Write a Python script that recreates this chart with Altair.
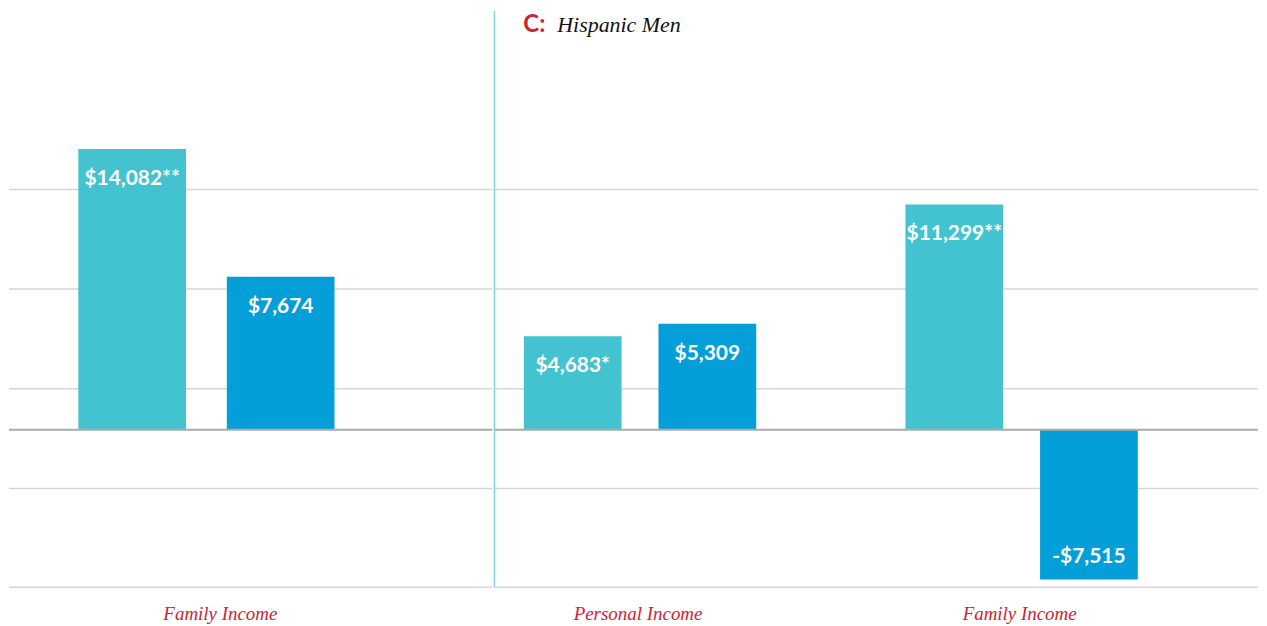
import altair as alt
import pandas as pd

# ---- data ----
panels = ["A", "A", "C", "C", "C", "C"]
groups = ["Family Income", "Family Income", "Personal Income", "Personal Income",
          "Family Income", "Family Income"]
series = ["Series 1", "Series 2", "Series 1", "Series 2", "Series 1", "Series 2"]
values = [14082, 7674, 4683, 5309, 11299, -7515]
labels = ["$14,082**", "$7,674", "$4,683*", "$5,309", "$11,299**", "-$7,515"]
grid_values = [12050, 7050, 2050, -2950, -7900]
series_names = ["Series 1", "Series 2"]
series_colors = ["#42C3CF", "#049FD8"]

df = pd.DataFrame({"panel": panels, "group": groups, "series": series,
                   "value": values, "label": labels})
grid_df = pd.DataFrame({"v": grid_values})
zero_df = pd.DataFrame({"v": [0]})

Y_DOMAIN = [-7900, 21100]
H = 580
LABEL_FONT = "Lato"
CAT_FONT = "Liberation Serif"
RED = "#D3222F"

yscale = alt.Scale(domain=Y_DOMAIN, nice=False, zero=False)
color = alt.Color("series:N", scale=alt.Scale(domain=series_names, range=series_colors),
                  legend=None)


def panel(name, cats, width, xscale, off_pad, extra=None, label_offset=0):
    d = df[df["panel"] == name]
    x = alt.X("group:N", scale=xscale, sort=cats,
              axis=alt.Axis(title=None, domain=False, ticks=False, grid=False,
                            labelAngle=0, labelFont=CAT_FONT, labelFontStyle="italic",
                            labelFontSize=19, labelColor=RED, labelPadding=17,
                            labelOffset=label_offset))
    xo = alt.XOffset("series:N", scale=alt.Scale(domain=series_names,
                                                   paddingInner=off_pad, paddingOuter=0))
    y = alt.Y("value:Q", scale=yscale, axis=None)

    grid = alt.Chart(grid_df).mark_rule(color="#D5D5D5", strokeWidth=1.5).encode(
        y=alt.Y("v:Q", scale=yscale, axis=None))
    bars = alt.Chart(d).mark_bar().encode(x=x, xOffset=xo, y=y, y2=alt.datum(0), color=color)
    zero = alt.Chart(zero_df).mark_rule(color="#ABABAB", strokeWidth=2).encode(
        y=alt.Y("v:Q", scale=yscale, axis=None))
    pos = alt.Chart(d).transform_filter("datum.value >= 0").mark_text(
        font=LABEL_FONT, fontWeight="bold", fontSize=21, color="white",
        baseline="middle", dy=30).encode(x=x, xOffset=xo, y=y, text="label:N")
    neg = alt.Chart(d).transform_filter("datum.value < 0").mark_text(
        font=LABEL_FONT, fontWeight="bold", fontSize=21, color="white",
        baseline="middle", dy=-23).encode(x=x, xOffset=xo, y=y, text="label:N")
    layers = [grid, bars, zero, pos, neg]
    if extra:
        layers += extra
    return alt.layer(*layers).properties(width=width, height=H)


left = panel("A", ["Family Income"], 485,
             alt.Scale(domain=["Family Income"], paddingInner=0, paddingOuter=0.4436,
                       align=0.305),
             0.275, label_offset=14)

divider = alt.Chart(zero_df).mark_rule(color="#7FD3DE", strokeWidth=1.5).encode(
    x=alt.value(0), y=alt.value(2), y2=alt.value(H))
title_c = alt.Chart(zero_df).mark_text(
    text="C:", font=LABEL_FONT, fontWeight="bold", fontSize=24, color=RED,
    align="left", baseline="middle").encode(x=alt.value(29), y=alt.value(16))
title_txt = alt.Chart(zero_df).mark_text(
    text="Hispanic Men", font=CAT_FONT, fontStyle="italic", fontSize=22, color="#111111",
    align="left", baseline="middle").encode(x=alt.value(63), y=alt.value(16))

right = panel("C", ["Personal Income", "Family Income"], 766,
              alt.Scale(domain=["Personal Income", "Family Income"], paddingInner=0.391,
                        paddingOuter=0.196, align=0.1965),
              0.274, extra=[divider, title_c, title_txt], label_offset=-2)

chart = alt.hconcat(left, right, spacing=0).resolve_scale(
    x="independent", xOffset="independent").properties(padding=0).configure_view(
    stroke=None).configure_concat(spacing=0)

chart.save("out.html", embed_options={"renderer": "svg", "actions": False})
